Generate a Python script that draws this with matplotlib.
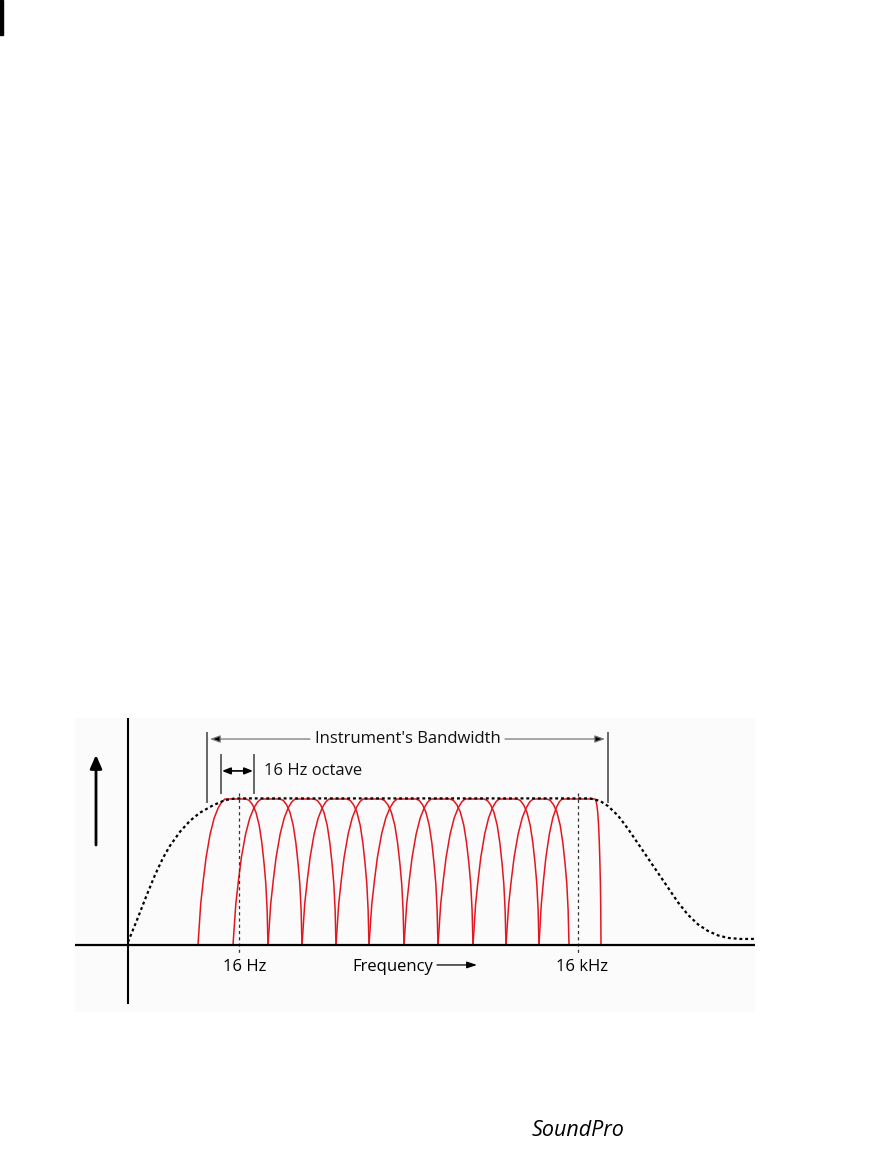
import matplotlib
matplotlib.use("Agg")
import matplotlib.pyplot as plt
from matplotlib.patches import Rectangle

# --- data (x: relative frequency units, y: relative level, plateau = 1) ---
# octave-band filters: feet of each band and the flat part of its top
band_lo = [7.0, 10.5, 14.0, 17.4, 20.8, 24.1, 27.6, 31.0, 34.5, 37.8, 41.1]
band_top_lo = [9.7, 13.3, 16.7, 20.1, 23.5, 26.9, 30.3, 33.7, 37.1, 40.5, 43.4]
band_top_hi = [11.8, 15.2, 18.6, 21.9, 25.3, 28.8, 32.2, 35.6, 38.9, 41.9, 46.7]
band_hi = [14.0, 17.4, 20.8, 24.1, 27.6, 31.0, 34.5, 37.8, 41.1, 44.1, 47.3]
band_peak = 0.993

# skirt shape of one filter (fraction of the skirt width, level)
rise_t = [0.0, 0.1, 0.2, 0.3, 0.45, 0.6, 0.75, 0.88, 1.0]
rise_h = [0.0, 0.28, 0.45, 0.6, 0.76, 0.87, 0.94, 0.98, 1.0]
fall_t = [0.0, 0.15, 0.3, 0.45, 0.6, 0.72, 0.82, 0.9, 0.96, 1.0]
fall_h = [1.0, 0.99, 0.96, 0.91, 0.82, 0.70, 0.56, 0.42, 0.24, 0.0]

# instrument response envelope (dashed)
env_x = [0.0, 0.9, 1.8, 2.7, 3.5, 4.2, 5.2, 6.2, 7.2, 8.5, 9.7, 10.7,
         46.2, 47.2, 48.0, 49.0, 50.0, 51.0, 52.0, 53.0, 54.0, 55.0, 56.0,
         57.0, 58.0, 59.0, 60.0, 61.2, 62.7]
env_y = [0.02, 0.17, 0.327, 0.476, 0.592, 0.675, 0.77, 0.845, 0.90, 0.95, 0.985, 0.997,
         0.997, 0.98, 0.945, 0.88, 0.79, 0.69, 0.59, 0.49, 0.39, 0.29, 0.205,
         0.14, 0.095, 0.065, 0.048, 0.041, 0.041]

f_low = 11.1    # 16 Hz
f_high = 45.0   # 16 kHz

RED = "#e3161f"
FONT = ["Open Sans", "DejaVu Sans"]

fig = plt.figure(figsize=(8.75, 11.64), dpi=100)
fig.patch.set_facecolor("white")
ax = fig.add_axes([75 / 875, 152 / 1164, 680 / 875, 294 / 1164])
ax.set_facecolor("#fbfbfb")
ax.set_xlim(-5.3, 62.7)
ax.set_ylim(-0.456, 1.544)
for s in ax.spines.values():
    s.set_visible(False)
ax.set_xticks([])
ax.set_yticks([])

# filter bands
for lo, tlo, thi, hi in zip(band_lo, band_top_lo, band_top_hi, band_hi):
    xs = [lo + t * (tlo - lo) for t in rise_t] + [thi + t * (hi - thi) for t in fall_t]
    ys = [h * band_peak for h in rise_h] + [h * band_peak for h in fall_h]
    ax.plot(xs, ys, color=RED, lw=1.1, solid_joinstyle="round", zorder=3)

# envelope
ax.plot(env_x, env_y, color="black", lw=1.6, linestyle=(0, (1.3, 1.3)), zorder=4)

# axes
ax.plot([0, 0], [-0.395, 1.544], color="black", lw=1.5, zorder=5)
ax.plot([-5.3, 62.7], [0, 0], color="black", lw=1.6, zorder=5)
ax.annotate("", xy=(-3.2, 1.293), xytext=(-3.2, 0.68),
            arrowprops=dict(arrowstyle="-|>,head_length=0.8,head_width=0.35",
                            color="black", lw=2, shrinkA=0, shrinkB=0))

# 16 Hz / 16 kHz markers
for fx in (f_low, f_high):
    ax.plot([fx, fx], [1.034, -0.068], color="#333333", lw=0.9,
            linestyle=(0, (2.5, 2.5)), zorder=4)

# instrument bandwidth
grey = "#666666"
for bx in (7.9, 48.0):
    ax.plot([bx, bx], [0.973, 1.442], color=grey, lw=1.4, zorder=5)
arrow_kw = dict(arrowstyle="-|>,head_length=0.6,head_width=0.22",
                fc="black", ec="#777777", lw=0.9, shrinkA=0, shrinkB=0)
ax.annotate("", xy=(8.2, 1.401), xytext=(18.2, 1.401), arrowprops=arrow_kw)
ax.annotate("", xy=(47.7, 1.401), xytext=(37.7, 1.401), arrowprops=arrow_kw)
ax.text(27.95, 1.401, "Instrument's Bandwidth", ha="center", va="center",
        fontsize=12, family=FONT, color="#111111")

# octave
for ox in (9.3, 12.6):
    ax.plot([ox, ox], [1.034, 1.293], color=grey, lw=1.4, zorder=5)
ax.annotate("", xy=(12.5, 1.184), xytext=(9.4, 1.184),
            arrowprops=dict(arrowstyle="<|-|>,head_length=0.5,head_width=0.2",
                            color="black", lw=1.2, shrinkA=0, shrinkB=0))
ax.text(13.6, 1.184, "16 Hz octave", ha="left", va="center",
        fontsize=12, family=FONT, color="#111111")

# x labels
ax.text(11.7, -0.15, "16 Hz", ha="center", va="center", fontsize=12, family=FONT)
ax.text(45.4, -0.15, "16 kHz", ha="center", va="center", fontsize=12, family=FONT)
ax.text(22.4, -0.15, "Frequency", ha="left", va="center", fontsize=12, family=FONT)
ax.annotate("", xy=(34.9, -0.136), xytext=(30.9, -0.136),
            arrowprops=dict(arrowstyle="-|>,head_length=0.6,head_width=0.2",
                            color="black", lw=0.9, shrinkA=0, shrinkB=0))

# logo and page mark
fig.text(578 / 875, 1 - 1130 / 1164, "SoundPro", ha="center", va="center",
         fontsize=15.5, style="italic", family=FONT)
fig.add_artist(Rectangle((0, 1 - 35 / 1164), 3 / 875, 35 / 1164,
                         transform=fig.transFigure, color="black"))

fig.savefig("out.png", dpi=100, facecolor="white")
